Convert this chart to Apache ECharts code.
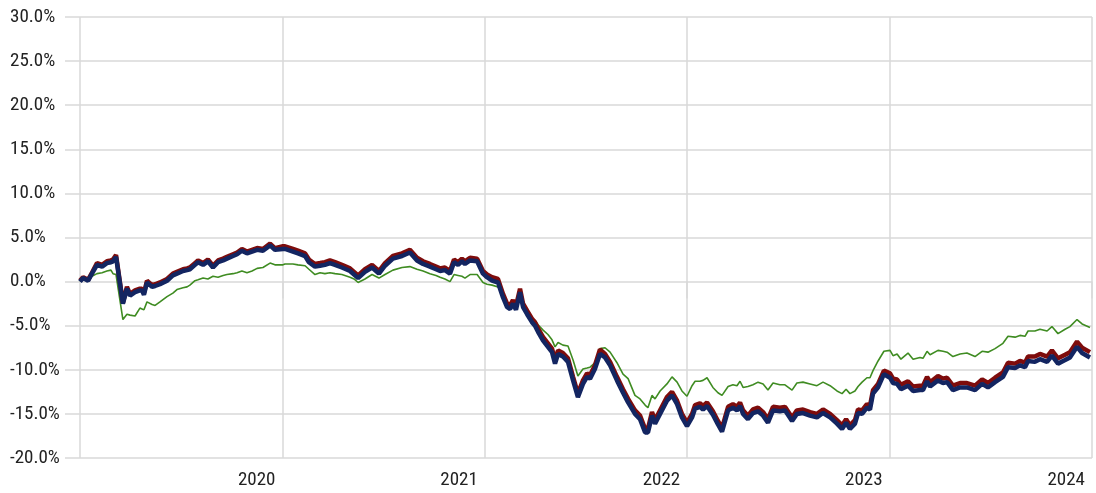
<!DOCTYPE html>
<html><head><meta charset="utf-8">
<script src="https://cdn.jsdelivr.net/npm/echarts@6/dist/echarts.min.js"></script>
<style>html,body{margin:0;padding:0;background:#fff}#c{width:1096px;height:493px}</style>
</head><body><div id="c"></div>
<script>
const dates = [
  2019.000,2019.015,2019.040,2019.059,2019.084,2019.109,2019.133,2019.153,2019.163,2019.178,
  2019.212,2019.232,2019.247,2019.272,2019.296,2019.306,2019.316,2019.331,2019.356,2019.371,
  2019.395,2019.430,2019.459,2019.479,2019.509,2019.529,2019.543,2019.568,2019.583,2019.608,
  2019.632,2019.657,2019.682,2019.707,2019.726,2019.756,2019.776,2019.800,2019.825,2019.850,
  2019.875,2019.904,2019.939,2019.963,
  2020.003,2020.013,2020.052,2020.077,2020.112,2020.131,2020.161,2020.186,2020.210,2020.235,
  2020.260,2020.294,2020.334,2020.354,2020.374,2020.408,2020.443,2020.477,2020.507,2020.546,
  2020.591,2020.630,2020.665,2020.695,2020.729,2020.759,2020.779,2020.803,2020.828,2020.848,
  2020.868,2020.887,2020.902,2020.927,2020.962,2020.991,2021.011,
  2021.036,2021.065,2021.090,2021.110,2021.125,2021.139,2021.154,2021.174,2021.189,2021.209,
  2021.233,2021.248,2021.263,2021.288,2021.312,2021.332,2021.347,2021.362,2021.386,2021.411,
  2021.436,2021.460,2021.485,2021.505,2021.520,2021.544,2021.569,2021.594,2021.619,2021.653,
  2021.683,2021.708,2021.742,2021.767,2021.792,2021.806,2021.826,2021.841,2021.866,2021.900,
  2021.925,2021.950,2021.974,2021.999,
  2022.024,2022.039,2022.063,2022.078,2022.098,2022.127,2022.152,2022.172,2022.202,2022.226,
  2022.246,2022.261,2022.276,2022.300,2022.325,2022.350,2022.375,2022.399,2022.424,2022.458,
  2022.483,2022.518,2022.542,2022.572,2022.607,2022.641,2022.671,2022.706,2022.740,2022.765,
  2022.785,2022.804,2022.829,2022.844,2022.864,2022.888,2022.903,2022.918,2022.943,2022.972,
  2023.002,2023.017,2023.037,2023.056,2023.091,2023.116,2023.150,2023.165,2023.185,2023.200,
  2023.239,2023.264,2023.284,2023.313,2023.348,2023.382,2023.422,2023.457,2023.486,2023.521,
  2023.560,2023.585,2023.620,2023.644,2023.669,2023.684,2023.718,2023.743,2023.778,2023.802,
  2023.832,2023.867,2023.891,2023.926,2023.951,2023.990
];

const navySeries = [
  0.0,0.4,0.1,0.9,1.9,1.7,2.1,2.2,2.3,2.8,
  -2.5,-0.8,-1.6,-1.2,-1.0,-1.0,-1.5,-0.1,-0.6,-0.5,
  -0.3,0.1,0.7,0.9,1.2,1.3,1.4,1.9,2.2,1.9,
  2.3,1.6,2.2,2.4,2.6,2.9,3.1,3.5,3.2,3.4,
  3.6,3.5,4.1,3.6,
  3.7,3.7,3.4,3.2,2.9,2.2,1.7,1.8,1.9,2.1,
  1.9,1.6,1.2,0.8,0.4,1.1,1.6,0.9,1.8,2.6,
  2.9,3.3,2.4,2.0,1.7,1.4,1.2,1.3,0.9,2.2,
  1.9,2.3,2.0,2.4,2.3,0.9,0.5,
  0.1,-0.1,-1.8,-2.9,-3.1,-2.5,-3.2,-1.2,-2.9,-3.7,
  -4.6,-5.0,-5.7,-6.7,-7.4,-8.0,-9.3,-8.2,-8.5,-9.1,
  -11.2,-13.1,-11.6,-10.8,-11.0,-9.9,-8.2,-8.6,-9.5,-11.2,
  -12.6,-13.7,-15.0,-15.6,-17.1,-17.1,-15.2,-16.1,-15.0,-13.5,
  -12.9,-13.9,-15.4,-16.4,
  -15.4,-14.4,-14.2,-14.5,-14.1,-15.1,-16.2,-17.0,-14.6,-14.3,
  -14.6,-14.1,-15.0,-15.6,-14.9,-14.7,-15.2,-16.0,-14.6,-14.7,
  -14.6,-15.8,-15.0,-14.9,-15.2,-15.4,-14.9,-15.4,-16.1,-16.7,
  -16.0,-16.7,-16.1,-14.9,-15.0,-14.3,-14.5,-12.7,-12.0,-10.5,
  -10.9,-11.5,-11.6,-12.2,-11.8,-12.4,-12.3,-12.3,-11.3,-11.9,
  -11.2,-11.5,-11.4,-12.3,-12.0,-12.0,-12.3,-11.6,-12.0,-11.4,
  -10.8,-9.7,-9.8,-9.5,-9.7,-9.0,-9.1,-8.8,-9.1,-8.4,
  -9.3,-8.9,-8.6,-7.4,-8.1,-8.6
];

const redSeries = [
  0.1,0.5,0.2,1.0,2.1,1.9,2.3,2.4,2.5,3.0,
  -2.4,-0.6,-1.4,-1.0,-0.8,-0.8,-1.3,0.1,-0.4,-0.3,
  -0.1,0.3,0.9,1.1,1.4,1.5,1.6,2.1,2.4,2.1,
  2.5,1.8,2.4,2.6,2.8,3.1,3.3,3.7,3.4,3.6,
  3.8,3.7,4.3,3.8,
  4.0,4.0,3.7,3.5,3.2,2.5,2.0,2.1,2.2,2.4,
  2.2,1.9,1.5,1.1,0.7,1.4,1.9,1.2,2.1,2.9,
  3.2,3.6,2.7,2.3,2.0,1.7,1.5,1.6,1.2,2.5,
  2.2,2.6,2.3,2.7,2.6,1.2,0.8,
  0.5,0.3,-1.4,-2.5,-2.7,-2.1,-2.8,-0.8,-2.5,-3.3,
  -4.2,-4.6,-5.3,-6.3,-7.0,-7.6,-8.9,-7.8,-8.1,-8.7,
  -10.8,-12.7,-11.2,-10.4,-10.6,-9.5,-7.7,-8.2,-9.1,-10.8,
  -12.2,-13.3,-14.6,-15.2,-16.7,-16.7,-14.8,-15.7,-14.6,-13.1,
  -12.5,-13.5,-15.0,-16.0,
  -15.0,-14.0,-13.8,-14.1,-13.7,-14.7,-15.8,-16.6,-14.2,-13.9,
  -14.2,-13.7,-14.6,-15.2,-14.5,-14.3,-14.8,-15.6,-14.2,-14.3,
  -14.2,-15.4,-14.6,-14.5,-14.8,-15.0,-14.5,-15.0,-15.7,-16.3,
  -15.6,-16.3,-15.7,-14.5,-14.6,-13.9,-14.1,-12.3,-11.6,-10.1,
  -10.4,-11.0,-11.1,-11.7,-11.3,-11.9,-11.8,-11.8,-10.8,-11.4,
  -10.7,-11.0,-10.9,-11.8,-11.5,-11.5,-11.8,-11.1,-11.5,-10.9,
  -10.3,-9.2,-9.3,-9.0,-9.2,-8.5,-8.5,-8.2,-8.5,-7.8,
  -8.7,-8.3,-8.0,-6.8,-7.5,-8.0
];

const greenSeries = [
  0.0,0.4,0.1,0.6,0.9,1.0,1.2,1.3,0.9,0.8,
  -4.3,-3.7,-3.8,-3.9,-3.0,-3.1,-3.2,-2.3,-2.6,-2.7,
  -2.3,-1.7,-1.3,-0.9,-0.7,-0.6,-0.4,0.1,0.2,0.4,
  0.3,0.6,0.5,0.7,0.8,0.9,1.0,1.2,1.0,1.2,
  1.5,1.6,2.1,1.9,
  1.9,2.0,2.0,1.9,1.8,1.4,0.8,1.0,0.9,1.0,
  0.9,0.8,0.5,0.3,-0.1,0.3,0.8,0.4,0.8,1.3,
  1.6,1.7,1.4,1.2,0.9,0.7,0.5,0.3,0.0,0.8,
  0.7,0.6,0.4,0.8,0.8,-0.1,-0.3,
  -0.4,-0.6,-1.4,-2.6,-3.0,-2.5,-3.1,-1.4,-2.8,-3.6,
  -4.4,-4.4,-4.9,-5.5,-6.0,-6.6,-7.4,-6.9,-7.2,-7.3,
  -8.9,-10.7,-9.9,-9.8,-9.7,-9.2,-7.6,-7.5,-8.0,-9.2,
  -10.5,-11.0,-12.9,-13.3,-14.0,-14.3,-12.9,-13.3,-12.4,-11.6,
  -10.8,-11.4,-12.4,-13.0,
  -11.8,-11.3,-11.3,-11.2,-10.9,-12.0,-12.6,-12.9,-11.9,-11.7,
  -11.8,-11.3,-12.0,-11.9,-11.7,-11.4,-11.6,-12.3,-11.5,-11.7,
  -11.7,-12.3,-11.5,-11.4,-11.6,-11.8,-11.4,-11.8,-12.4,-12.7,
  -12.2,-12.7,-12.4,-11.9,-11.4,-10.9,-10.9,-10.1,-9.0,-7.9,
  -7.8,-8.4,-8.2,-8.8,-8.1,-8.8,-8.6,-8.7,-7.9,-8.3,
  -7.8,-7.9,-8.0,-8.5,-8.2,-8.1,-8.5,-7.9,-8.0,-7.6,
  -7.0,-6.2,-6.3,-6.1,-6.2,-5.6,-5.6,-5.4,-5.6,-5.1,
  -5.9,-5.4,-5.1,-4.3,-4.8,-5.2
];

const yMin = -20, yMax = 30, yStep = 5;
const xMin = 2019, xMax = 2024;

const pair = (vals) => dates.map((d, i) => [d, vals[i]]);
const FONT = "'Roboto Condensed', 'Liberation Sans Narrow', 'Roboto', sans-serif";
const GRID = '#d9d9d9';

const chart = echarts.init(document.getElementById('c'), null, {renderer: 'canvas'});
chart.setOption({
  animation: false,
  backgroundColor: '#ffffff',
  grid: {left: 80, right: 4, top: 17, bottom: 35, containLabel: false},
  xAxis: {
    type: 'value', min: xMin, max: xMax, interval: 1,
    axisLine: {show: false},
    axisTick: {show: true, length: 17, lineStyle: {color: GRID, width: 1.5}},
    splitLine: {show: true, lineStyle: {color: GRID, width: 1.5}},
    axisLabel: {
      fontFamily: FONT, fontSize: 19, color: '#222',
      align: 'right', margin: 13, padding: [0, 7, 0, 0],
      showMinLabel: false,
      formatter: v => String(Math.round(v))
    }
  },
  yAxis: {
    type: 'value', min: yMin, max: yMax, interval: yStep,
    axisLine: {show: false},
    axisTick: {show: true, length: 15, lineStyle: {color: GRID, width: 1.5}},
    splitLine: {show: true, lineStyle: {color: GRID, width: 1.5}},
    axisLabel: {
      fontFamily: FONT, fontSize: 19, color: '#222',
      align: 'left', margin: 70,
      formatter: v => v.toFixed(1) + '%'
    }
  },
  series: [
    {type: 'line', data: pair(greenSeries), showSymbol: false, symbol: 'none',
     lineStyle: {color: '#3f8c22', width: 1.6}, z: 2},
    {type: 'line', data: pair(redSeries), showSymbol: false, symbol: 'none',
     lineStyle: {color: '#7e0c0c', width: 4.5}, z: 3},
    {type: 'line', data: pair(navySeries), showSymbol: false, symbol: 'none',
     lineStyle: {color: '#132561', width: 4.5}, z: 4}
  ]
});
</script></body></html>
